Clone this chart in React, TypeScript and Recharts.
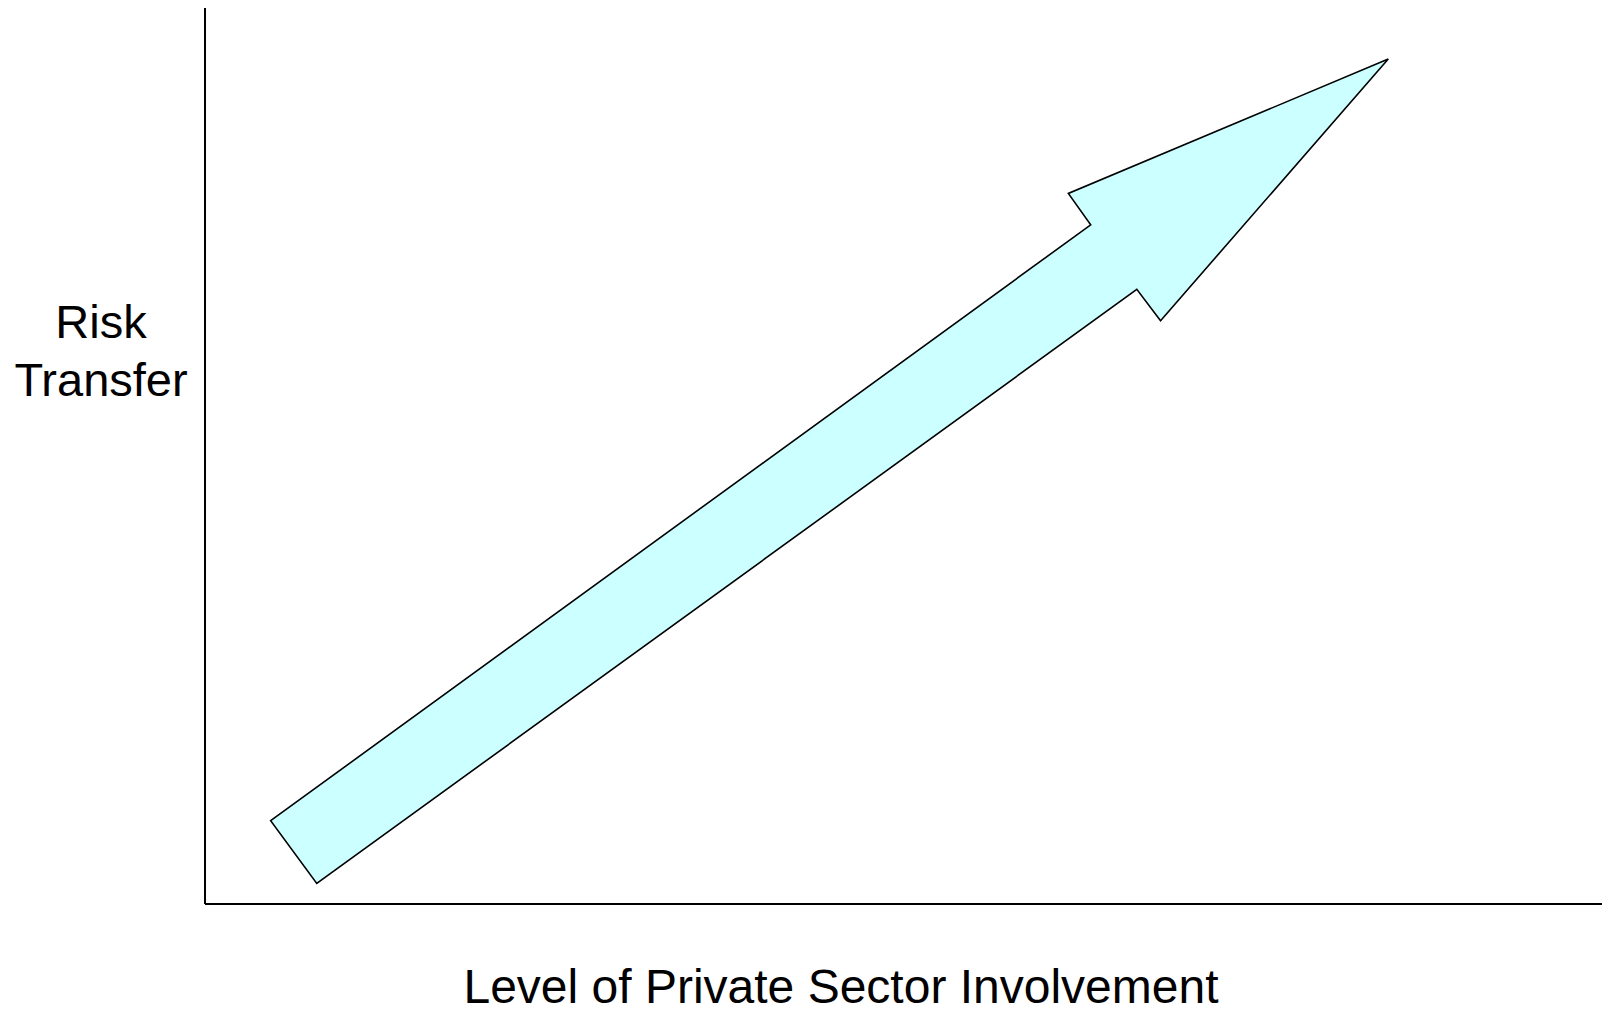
import { ScatterChart, Scatter, XAxis, YAxis, Label, Curve } from "recharts"

// arrow outline, in chart units (x: private sector involvement, y: risk transfer), 0-100
const arrowX = [4.7, 63.4, 61.8, 84.7, 68.4, 66.7, 8.0]
const arrowY = [9.3, 75.8, 79.3, 94.3, 65.1, 68.6, 2.3]

const xTitle = "Level of Private Sector Involvement"
const yTitleLines = ["Risk", "Transfer"]

const arrowData = arrowX.map((x, i) => ({ x, y: arrowY[i] }))

const font = "'Liberation Sans', Arial, sans-serif"

export default function App() {
  return (
    <div style={{ position: "absolute", left: 0, top: 0, background: "#fff" }}>
      <ScatterChart width={1602} height={1014} margin={{ top: 8, right: 0, bottom: 109, left: 204 }}>
        <XAxis
          type="number"
          dataKey="x"
          domain={[0, 100]}
          height={1}
          tick={false}
          tickLine={false}
          axisLine={{ stroke: "#000", strokeWidth: 2 }}
        >
          <Label
            content={({ viewBox }: any) => (
              <text x={viewBox.x + 636} y={viewBox.y + 99} textAnchor="middle" fontFamily={font} fontSize={48} fill="#000">
                {xTitle}
              </text>
            )}
          />
        </XAxis>
        <YAxis
          type="number"
          dataKey="y"
          domain={[0, 100]}
          width={1}
          tick={false}
          tickLine={false}
          axisLine={{ stroke: "#000", strokeWidth: 2 }}
        >
          <Label
            content={({ viewBox }: any) => (
              <text x={viewBox.x - 103} y={viewBox.y + 330} textAnchor="middle" fontFamily={font} fontSize={47} fill="#000">
                {yTitleLines.map((l, i) => (
                  <tspan key={l} x={viewBox.x - 103} dy={i === 0 ? 0 : 58}>
                    {l}
                  </tspan>
                ))}
              </text>
            )}
          />
        </YAxis>
        <Scatter
          data={arrowData}
          isAnimationActive={false}
          shape={() => <g />}
          line={(p: any) => (
            <Curve points={p.points} type="linearClosed" fill="#ccffff" stroke="#000" strokeWidth={1.6} />
          )}
        />
      </ScatterChart>
    </div>
  )
}
